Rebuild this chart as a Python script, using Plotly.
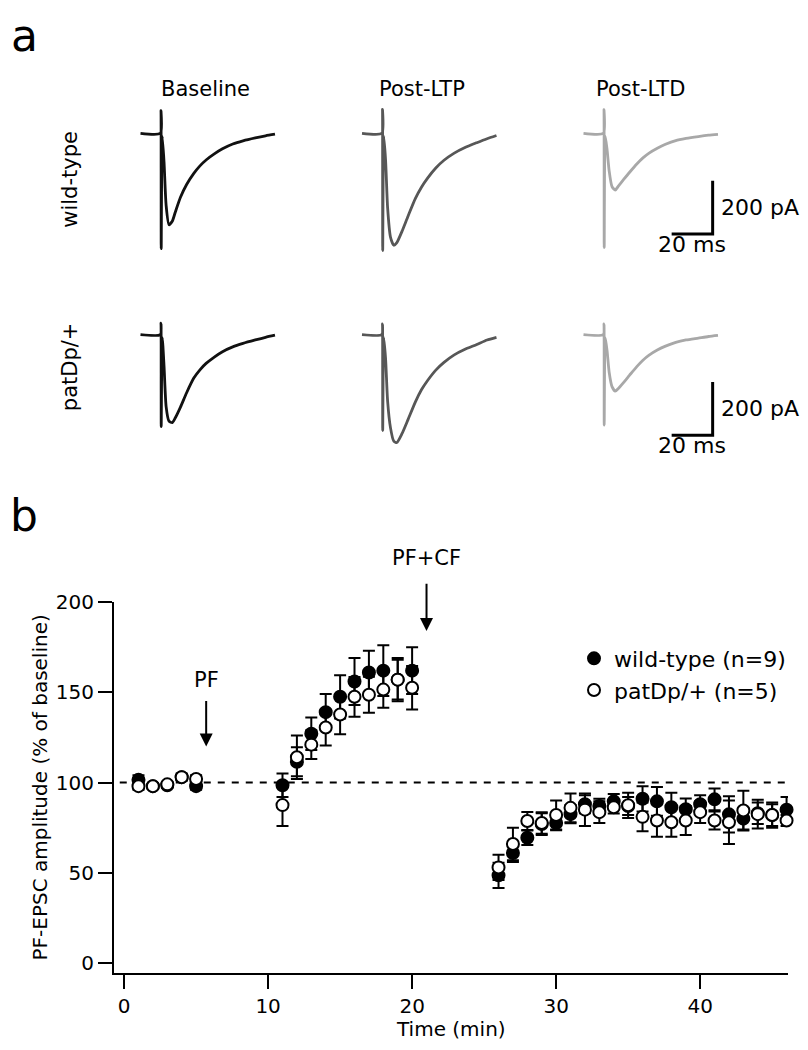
import plotly.graph_objects as go

W, H = 808, 1050


def fx(px):
    return px / W


def fy(py):
    return 1 - py / H


FONT = "DejaVu Sans"

# ---- panel a: example EPSC traces (ms from stimulus, pA)
TRACE_T = [-10, -0.3, 0, 0.1, 0.6, 1.5, 2.5, 3.9, 5.5, 7, 9.5, 12.5, 16, 19, 22, 26, 30, 35, 40, 46, 51, 55.6]
WT_BASE = [0, 0, 85, -433, -10, -110, -270, -343, -330, -295, -240, -192, -150, -122, -100, -77, -58, -40, -28, -17, -9, -3]
WT_LTP = [0, 0, 90, -440, -10, -100, -280, -390, -420, -410, -368, -310, -245, -202, -168, -130, -101, -74, -54, -35, -20, -8]
WT_LTD = [0, 0, 89, -429, -10, -60, -140, -200, -213, -198, -174, -146, -115, -92, -74, -56, -41, -27, -19, -12, -7, -4]
PAT_BASE = [0, 0, 43, -345, -10, -120, -270, -325, -330, -312, -272, -218, -163, -132, -108, -84, -64, -46, -33, -20, -10, -2]
PAT_LTP = [0, 0, 40, -360, -10, -90, -250, -350, -400, -405, -372, -318, -253, -207, -172, -133, -104, -76, -56, -37, -20, -10]
PAT_LTD = [0, 0, 40, -340, -10, -60, -140, -195, -212, -202, -180, -152, -120, -96, -77, -58, -43, -29, -20, -13, -7, -3]

CONDITIONS = ["Baseline", "Post-LTP", "Post-LTD"]
GENOTYPES = ["wild-type", "patDp/+"]
TRACES = [[WT_BASE, WT_LTP, WT_LTD], [PAT_BASE, PAT_LTP, PAT_LTD]]
TRACE_COLORS = ["#111111", "#575757", "#a8a8a8"]
SCALE_MS, SCALE_PA = 20, 200

# ---- panel b: PF-EPSC amplitude time course (% of baseline)
TIME_MIN = [1, 2, 3, 4, 5,
            11, 12, 13, 14, 15, 16, 17, 18, 19, 20,
            26, 27, 28, 29, 30, 31, 32, 33, 34, 35, 36, 37, 38, 39, 40, 41, 42, 43, 44, 45, 46]
WT_MEAN = [101.5, 98, 98.5, 103, 98,
           98.5, 111.5, 127, 139, 147.5, 156, 161, 162, 157, 162,
           48.6, 61, 69.4, 77, 77.6, 82.5, 88, 87, 89.6, 87, 91, 89.6, 86.3, 85.2, 88, 90.7, 82.4, 80, 83, 82, 85]
WT_SEM = [2.5, 1.5, 1.5, 2, 2,
          6.5, 8, 9, 10, 12, 13, 12, 14, 11, 13,
          7, 5, 4, 6, 4, 5, 5, 4, 4, 5, 7, 8, 8, 6, 5, 6, 10, 6, 6, 6, 7]
PAT_MEAN = [98, 98, 99, 103, 102,
            87.5, 114, 121, 130.5, 137.7, 147.5, 148.6, 151.5, 157, 152.5,
            53, 66, 78.7, 77.6, 82, 86, 85, 83.6, 86.3, 87.4, 81, 79, 78, 79, 83.6, 79, 78, 84.5, 82.5, 82, 79]
PAT_SEM = [2, 1.5, 1.5, 1.5, 2,
           11.5, 12, 8, 10, 11, 11, 10, 10, 12, 12,
           7, 9, 5, 6, 8, 8, 9, 6, 3.5, 7, 8, 9, 8, 8, 6, 5, 12, 11, 8, 7, 3]

fig = go.Figure()
layout_axes = {}


def txt(size):
    return dict(size=size, family=FONT, color="black")


# trace subplots: px geometry
MS_PX, PA_PX = 2.05, 0.27
X_RANGE, Y_RANGE = [-12, 58], [-480, 120]
STIM_X = [161, 382.5, 604]
BASE_Y = [123, 327]

k = 2
for r, row in enumerate(TRACES):
    for c, vals in enumerate(row):
        x0 = STIM_X[c] + X_RANGE[0] * MS_PX
        x1 = x0 + (X_RANGE[1] - X_RANGE[0]) * MS_PX
        top = BASE_Y[r] - Y_RANGE[1] * PA_PX
        bot = BASE_Y[r] - Y_RANGE[0] * PA_PX
        fig.add_trace(go.Scatter(x=TRACE_T, y=vals, mode="lines", xaxis=f"x{k}", yaxis=f"y{k}",
                                 line=dict(color=TRACE_COLORS[c], width=2.8, shape="spline", smoothing=0.6),
                                 showlegend=False, hoverinfo="skip"))
        layout_axes[f"xaxis{k}"] = dict(domain=[fx(x0), fx(x1)], range=X_RANGE, visible=False,
                                        anchor=f"y{k}", fixedrange=True)
        layout_axes[f"yaxis{k}"] = dict(domain=[fy(bot), fy(top)], range=Y_RANGE, visible=False,
                                        anchor=f"x{k}", fixedrange=True)
        if c == 2:
            cx, cy = 53, -378
            fig.add_trace(go.Scatter(x=[cx - SCALE_MS, cx, cx], y=[cy, cy, cy + SCALE_PA], mode="lines",
                                     xaxis=f"x{k}", yaxis=f"y{k}", line=dict(color="black", width=3),
                                     showlegend=False, hoverinfo="skip", cliponaxis=False))
            fig.add_annotation(x=cx + 3, y=cy + SCALE_PA / 2, xref=f"x{k}", yref=f"y{k}",
                               text=f"{SCALE_PA} pA", showarrow=False, xanchor="left", yanchor="middle",
                               font=txt(22))
            fig.add_annotation(x=cx - SCALE_MS / 2, y=cy - 38, xref=f"x{k}", yref=f"y{k}",
                               text=f"{SCALE_MS} ms", showarrow=False, xanchor="center", yanchor="middle",
                               font=txt(22))
        k += 1

# panel b
fig.add_trace(go.Scatter(x=TIME_MIN, y=WT_MEAN, mode="markers", name="wild-type (n=9)",
                         error_y=dict(type="data", array=WT_SEM, width=6, thickness=2, color="black"),
                         marker=dict(size=12, color="black", line=dict(color="black", width=2)),
                         cliponaxis=False, hoverinfo="skip"))
fig.add_trace(go.Scatter(x=TIME_MIN, y=PAT_MEAN, mode="markers", name="patDp/+ (n=5)",
                         error_y=dict(type="data", array=PAT_SEM, width=6, thickness=2, color="black"),
                         marker=dict(size=12, color="white", line=dict(color="black", width=2)),
                         cliponaxis=False, hoverinfo="skip"))

fig.add_shape(type="line", x0=-0.3, x1=46.1, y0=100, y1=100, xref="x", yref="y",
              line=dict(color="black", width=2, dash="7px,7px"), layer="below")

# stimulation arrows
fig.add_annotation(x=5.7, y=120, ax=5.7, ay=146, xref="x", yref="y", axref="x", ayref="y",
                   showarrow=True, arrowhead=2, arrowsize=1.3, arrowwidth=2, arrowcolor="black", text="")
fig.add_annotation(x=5.7, y=157, xref="x", yref="y", text="PF", showarrow=False,
                   xanchor="center", yanchor="middle", font=txt(21))
fig.add_annotation(x=21, y=184, ax=21, ay=211, xref="x", yref="y", axref="x", ayref="y",
                   showarrow=True, arrowhead=2, arrowsize=1.3, arrowwidth=2, arrowcolor="black", text="")
fig.add_annotation(x=21, y=fy(553), xref="x", yref="paper", text="PF+CF", showarrow=False,
                   xanchor="center", yanchor="middle", font=txt(21))

# headers / labels
for cond, x in zip(CONDITIONS, [205, 422, 640]):
    fig.add_annotation(x=fx(x), y=fy(78), xref="paper", yref="paper", text=cond,
                       showarrow=False, xanchor="center", yanchor="middle", font=txt(21))
for gen, y in zip(GENOTYPES, [170, 360]):
    fig.add_annotation(x=fx(70), y=fy(y), xref="paper", yref="paper", text=gen, textangle=-90,
                       showarrow=False, xanchor="center", yanchor="middle", font=txt(21))
fig.add_annotation(x=fx(24), y=fy(24), xref="paper", yref="paper", text="a", showarrow=False,
                   xanchor="center", yanchor="middle", font=txt(44))
fig.add_annotation(x=fx(24), y=fy(510), xref="paper", yref="paper", text="b", showarrow=False,
                   xanchor="center", yanchor="middle", font=txt(44))

# axis titles
fig.add_annotation(x=fx(451), y=fy(1031), xref="paper", yref="paper", text="Time (min)",
                   showarrow=False, xanchor="center", yanchor="middle", font=txt(20))
fig.add_annotation(x=fx(40), y=fy(786), xref="paper", yref="paper",
                   text="PF-EPSC amplitude (% of baseline)", textangle=-90,
                   showarrow=False, xanchor="center", yanchor="middle", font=txt(20))

axis_style = dict(showline=True, linewidth=2, linecolor="black", ticks="outside", ticklen=14,
                  tickwidth=2, tickcolor="black", showgrid=False, zeroline=False,
                  tickfont=txt(20), fixedrange=True)

fig.update_layout(
    width=W, height=H, margin=dict(l=0, r=0, t=0, b=0),
    paper_bgcolor="white", plot_bgcolor="white",
    font=dict(family=FONT, color="black"),
    hovermode=False,
    xaxis=dict(domain=[fx(114), fx(788)], range=[-0.7, 46.1], tickvals=[0, 10, 20, 30, 40],
               anchor="y", **axis_style),
    yaxis=dict(domain=[fy(974), fy(598)], range=[-5.5, 200], tickvals=[0, 50, 100, 150, 200],
               anchor="x", **axis_style),
    legend=dict(x=fx(574), y=fy(634), xanchor="left", yanchor="top", bgcolor="rgba(0,0,0,0)",
                font=txt(22)),
    showlegend=True,
    **layout_axes,
)

fig.write_html("out.html", config={"displayModeBar": False},
               post_script="document.body.style.margin='0';")
